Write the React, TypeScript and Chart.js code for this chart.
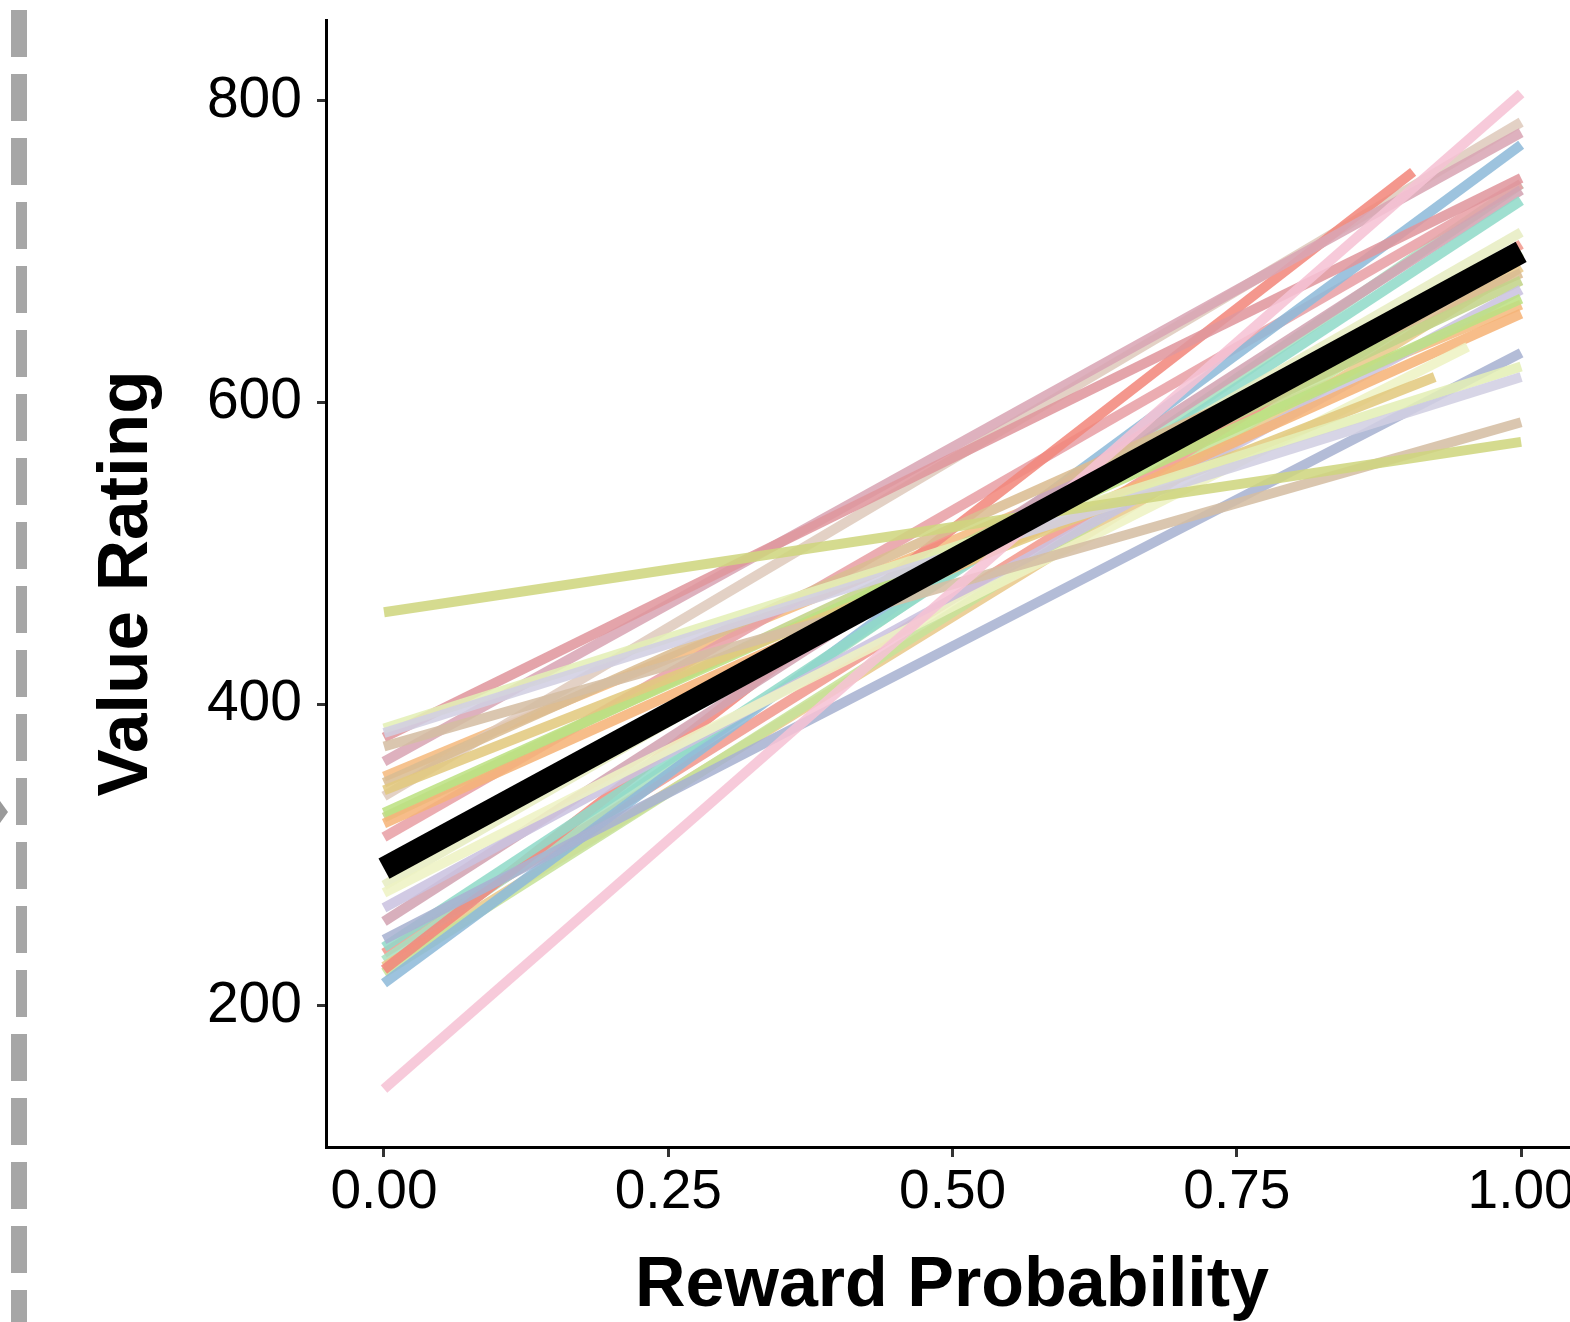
import React, { useEffect, useRef } from 'react';
import { Chart, registerables } from 'chart.js';

Chart.register(...registerables);

// ---- data ----
const probabilityTicks = [0, 0.25, 0.5, 0.75, 1];
const ratingTicks = [200, 400, 600, 800];

// per-participant fitted lines: value at p = 0 and at the line's last probability
const subjectStartRating = [145, 461, 372, 381, 384, 244, 343, 275, 321, 328, 265, 325, 348, 280, 239, 256, 378, 362, 224, 215, 339, 312, 222, 226, 230, 235, 352];
const subjectEndRating = [805, 574, 587, 617, 624, 633, 617, 637, 659, 669, 675, 681, 686, 713, 734, 741, 749, 779, 753, 771, 786, 745, 700, 690, 745, 705, 665];
const subjectEndProbability = [1, 1, 1, 1, 1, 1, 0.924, 0.953, 1, 1, 1, 1, 1, 1, 1, 1, 1, 1, 0.905, 1, 1, 1, 1, 1, 1, 1, 1];
const subjectColors = [
  '#f6c3d5', '#cfd67f', '#d5bea4', '#d2cfe2', '#e4efb6', '#a8b3d2', '#e2ca80', '#eef3c4', '#f6b479',
  '#bde183', '#cbc3e0', '#c3d48a', '#dbbd93', '#e7edc3', '#92dbc9', '#d3a4b3', '#e0979e', '#d9a6b5',
  '#f3897d', '#8fbbda', '#dfcbbd', '#e8a0a6', '#c7e39a', '#e9c98c', '#a8e0c0', '#f19a8e', '#f5bb80',
];

// group-level line
const meanStartRating = 291;
const meanEndRating = 700;

const FONT = "'Liberation Sans', Arial, Helvetica, sans-serif";

const decorPlugin = {
  id: 'decor',
  beforeDraw(chart: any) {
    const ctx = chart.ctx;
    ctx.save();
    ctx.fillStyle = '#a6a6a6';
    for (let y = 10; y < 1322; y += 64) {
      let x0 = 16;
      if (y < 200 || y >= 988) x0 = 11;
      ctx.fillRect(x0, y, 27 - x0, 47);
    }
    ctx.fillStyle = '#9a9a9a';
    ctx.beginPath();
    ctx.moveTo(0, 801);
    ctx.lineTo(8, 812);
    ctx.lineTo(0, 823);
    ctx.closePath();
    ctx.fill();
    ctx.restore();
  },
};

export default function App() {
  const ref = useRef<HTMLCanvasElement | null>(null);

  useEffect(() => {
    if (!ref.current) return;
    const subjectSets = subjectStartRating.map((s, i) => ({
      data: [
        { x: 0, y: s },
        { x: subjectEndProbability[i], y: subjectEndRating[i] },
      ],
      borderColor: subjectColors[i] + 'e0',
      borderWidth: 10,
      borderCapStyle: 'butt',
      pointRadius: 0,
      order: 1,
    }));
    const meanSet = {
      data: [
        { x: 0, y: meanStartRating },
        { x: 1, y: meanEndRating },
      ],
      borderColor: '#000000',
      borderWidth: 23,
      borderCapStyle: 'butt',
      pointRadius: 0,
      order: 0,
    };

    const chart = new Chart(ref.current, {
      type: 'line',
      data: { datasets: [meanSet, ...subjectSets] as any },
      options: {
        responsive: false,
        animation: false,
        layout: { padding: { left: 0, top: 20, right: 22, bottom: 0 } },
        plugins: { legend: { display: false }, tooltip: { enabled: false } },
        elements: { point: { radius: 0 }, line: { tension: 0 } },
        scales: {
          x: {
            type: 'linear',
            min: -0.051,
            max: 1.05,
            afterBuildTicks: (s: any) => {
              s.ticks = probabilityTicks.map((v) => ({ value: v }));
            },
            afterFit: (s: any) => {
              s.height = 175;
              s.paddingLeft = 0;
              s.paddingRight = 0;
            },
            grid: {
              display: true,
              drawOnChartArea: false,
              drawTicks: true,
              tickLength: 10,
              tickWidth: 3,
              tickColor: '#333333',
            },
            border: { display: true, color: '#000000', width: 3 },
            ticks: {
              autoSkip: false,
              maxRotation: 0,
              padding: 3,
              color: '#000000',
              font: { family: FONT, size: 55 },
              callback: (v: any) => Number(v).toFixed(2),
            },
            title: {
              display: true,
              text: 'Reward Probability',
              color: '#000000',
              font: { family: FONT, size: 70, weight: 'bold', lineHeight: 1 },
              padding: { top: 3, bottom: 0 },
            },
          },
          y: {
            type: 'linear',
            min: 106.5,
            max: 853.7,
            afterBuildTicks: (s: any) => {
              s.ticks = ratingTicks.map((v) => ({ value: v }));
            },
            afterFit: (s: any) => {
              s.width = 326;
              s.paddingTop = 0;
              s.paddingBottom = 0;
            },
            grid: {
              display: true,
              drawOnChartArea: false,
              drawTicks: true,
              tickLength: 9,
              tickWidth: 3,
              tickColor: '#333333',
            },
            border: { display: true, color: '#000000', width: 3 },
            ticks: {
              padding: 15,
              color: '#000000',
              font: { family: FONT, size: 57 },
              callback: (v: any) => String(v),
            },
            title: {
              display: true,
              text: 'Value Rating',
              color: '#000000',
              font: { family: FONT, size: 71, weight: 'bold', lineHeight: 1 },
              padding: { top: 92, bottom: 0 },
            },
          },
        },
      } as any,
      plugins: [decorPlugin],
    });
    return () => chart.destroy();
  }, []);

  return (
    <div
      style={{
        position: 'absolute',
        left: 0,
        top: 0,
        width: 1570,
        height: 1322,
        overflow: 'hidden',
        background: '#ffffff',
      }}
    >
      <canvas ref={ref} width={1600} height={1322} style={{ display: 'block', width: 1600, height: 1322 }} />
    </div>
  );
}
